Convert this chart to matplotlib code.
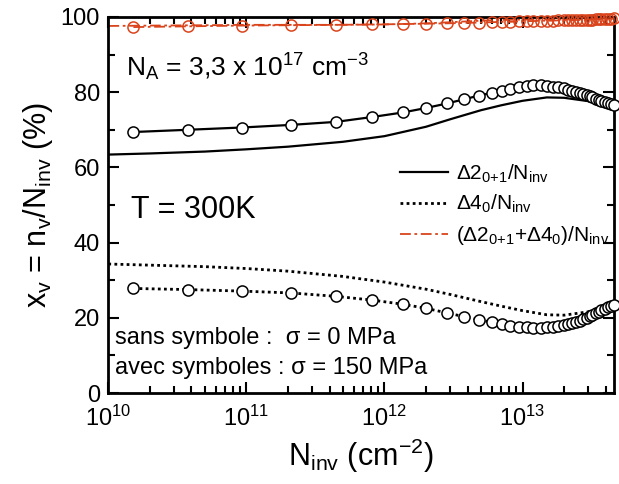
import numpy as np
import matplotlib.pyplot as plt
from matplotlib.ticker import MultipleLocator, LogLocator, NullFormatter

plt.rcParams['font.family'] = ['Liberation Sans', 'DejaVu Sans']
plt.rcParams['mathtext.default'] = 'regular'

# curves without symbols (sigma = 0 MPa)
n_line = [1e10, 2e10, 5e10, 1e11, 2e11, 5e11, 1e12, 2e12, 3e12, 5e12, 7e12,
          1e13, 1.5e13, 2e13, 3e13, 4.6e13]
d2_line = [63.4, 63.7, 64.2, 64.8, 65.5, 66.8, 68.3, 70.8, 72.8, 75.2, 76.5,
           77.7, 78.6, 78.5, 77.6, 76.1]
d4_line = [34.3, 34.0, 33.6, 33.1, 32.4, 31.0, 29.5, 27.6, 26.2, 24.3, 23.1,
           21.9, 20.8, 20.7, 21.6, 23.6]
sum_line = [97.6, 97.7, 97.8, 97.9, 97.9, 97.9, 98.0, 98.3, 98.6, 99.0, 99.2,
            99.3, 99.3, 99.3, 99.4, 99.6]

# curves with symbols (sigma = 150 MPa)
n_sym = [1.52e10, 3.80e10, 9.27e10, 2.12e11, 4.46e11, 8.18e11, 1.36e12, 2.01e12,
         2.84e12, 3.77e12, 4.84e12, 5.96e12, 7.05e12, 8.18e12, 9.35e12, 1.07e13,
         1.20e13, 1.35e13, 1.51e13, 1.66e13, 1.82e13, 1.98e13, 2.14e13, 2.29e13,
         2.44e13, 2.59e13, 2.74e13, 2.91e13, 3.06e13, 3.21e13, 3.38e13, 3.56e13,
         3.73e13, 3.93e13, 4.13e13, 4.34e13, 4.56e13]
d2_sym = [69.4, 70.0, 70.6, 71.3, 72.1, 73.4, 74.6, 75.8, 77.0, 78.1, 79.1, 79.8,
          80.4, 80.9, 81.3, 81.6, 81.8, 81.8, 81.7, 81.5, 81.3, 81.0, 80.7, 80.4,
          80.1, 79.8, 79.5, 79.2, 78.9, 78.6, 78.3, 78.0, 77.7, 77.4, 77.1, 76.8, 76.5]
d4_sym = [27.8, 27.5, 27.1, 26.6, 25.7, 24.7, 23.6, 22.5, 21.3, 20.3, 19.5, 18.8,
          18.3, 17.9, 17.6, 17.5, 17.4, 17.4, 17.5, 17.6, 17.8, 18.0, 18.3, 18.6,
          18.9, 19.2, 19.6, 20.0, 20.4, 20.8, 21.2, 21.6, 22.0, 22.4, 22.8, 23.2, 23.5]
sum_sym = [97.3, 97.5, 97.7, 97.8, 97.9, 98.0, 98.1, 98.2, 98.3, 98.4, 98.5, 98.6,
           98.7, 98.7, 98.8, 98.9, 98.9, 99.0, 99.0, 99.0, 99.1, 99.1, 99.1, 99.1,
           99.2, 99.2, 99.2, 99.3, 99.3, 99.3, 99.4, 99.4, 99.4, 99.5, 99.5, 99.5, 99.6]

red = '#d9441c'

fig = plt.figure(figsize=(6.19, 4.84), dpi=100)
ax = fig.add_axes([0.175, 0.188, 0.817, 0.777])

l1, = ax.plot(n_line, d2_line, '-', color='k', lw=1.6)
l2, = ax.plot(n_line, d4_line, color='k', lw=2, ls=(0, (1, 1.2)))
l3, = ax.plot(n_line, sum_line, color=red, lw=1.3, ls=(0, (6, 2, 1.5, 2)))

ms = 8
ax.plot(n_sym, d2_sym, '-', color='k', lw=1.6, marker='o', ms=ms,
        mfc='white', mec='k', mew=1.1, clip_on=False, zorder=3)
ax.plot(n_sym, d4_sym, color='k', lw=2, ls=(0, (1, 1.2)), marker='o', ms=ms,
        mfc='white', mec='k', mew=1.1, clip_on=False, zorder=3)
ax.plot(n_sym, sum_sym, color=red, lw=1.3, ls=(0, (6, 2, 1.5, 2)), marker='o',
        ms=ms, mfc='none', mec=red, mew=1.1, clip_on=False, zorder=3)

ax.set_xscale('log')
ax.set_xlim(1e10, 4.6e13)
ax.set_ylim(0, 100)
ax.yaxis.set_major_locator(MultipleLocator(20))
ax.yaxis.set_minor_locator(MultipleLocator(10))
ax.xaxis.set_major_locator(LogLocator(base=10, numticks=10))
ax.xaxis.set_minor_locator(LogLocator(base=10, subs=np.arange(2, 10), numticks=20))
ax.xaxis.set_minor_formatter(NullFormatter())

ax.tick_params(which='both', direction='in', top=True, right=True, width=1.5,
               labelsize=17)
ax.tick_params(which='major', length=8)
ax.tick_params(which='minor', length=5)
ax.tick_params(axis='x', which='major', pad=9)
ax.tick_params(axis='y', which='major', pad=6)
for s in ax.spines.values():
    s.set_linewidth(2)

ax.set_xlabel('N$_{inv}$ (cm$^{-2}$)', fontsize=22, labelpad=4)
ax.set_ylabel('x$_v$ = n$_v$/N$_{inv}$ (%)', fontsize=22, labelpad=4)

ax.text(0.034, 0.867, 'N$_A$ = 3,3 x 10$^{17}$ cm$^{-3}$', transform=ax.transAxes,
        fontsize=19, va='center', ha='left')
ax.text(0.045, 0.487, 'T = 300K', transform=ax.transAxes, fontsize=22,
        va='center', ha='left')
ax.text(0.013, 0.146, 'sans symbole :  σ = 0 MPa', transform=ax.transAxes,
        fontsize=17, va='center', ha='left')
ax.text(0.013, 0.066, 'avec symboles : σ = 150 MPa', transform=ax.transAxes,
        fontsize=17, va='center', ha='left')

ax.legend([l1, l2, l3],
          ['Δ2$_{0{+}1}$/N$_{inv}$', 'Δ4$_0$/N$_{inv}$', '(Δ2$_{0{+}1}$+Δ4$_0$)/N$_{inv}$'],
          loc='upper left', bbox_to_anchor=(0.56, 0.635), frameon=False,
          fontsize=15, handlelength=2.3, handletextpad=0.4, labelspacing=0.4,
          borderaxespad=0)

fig.savefig('out.png', dpi=100)
